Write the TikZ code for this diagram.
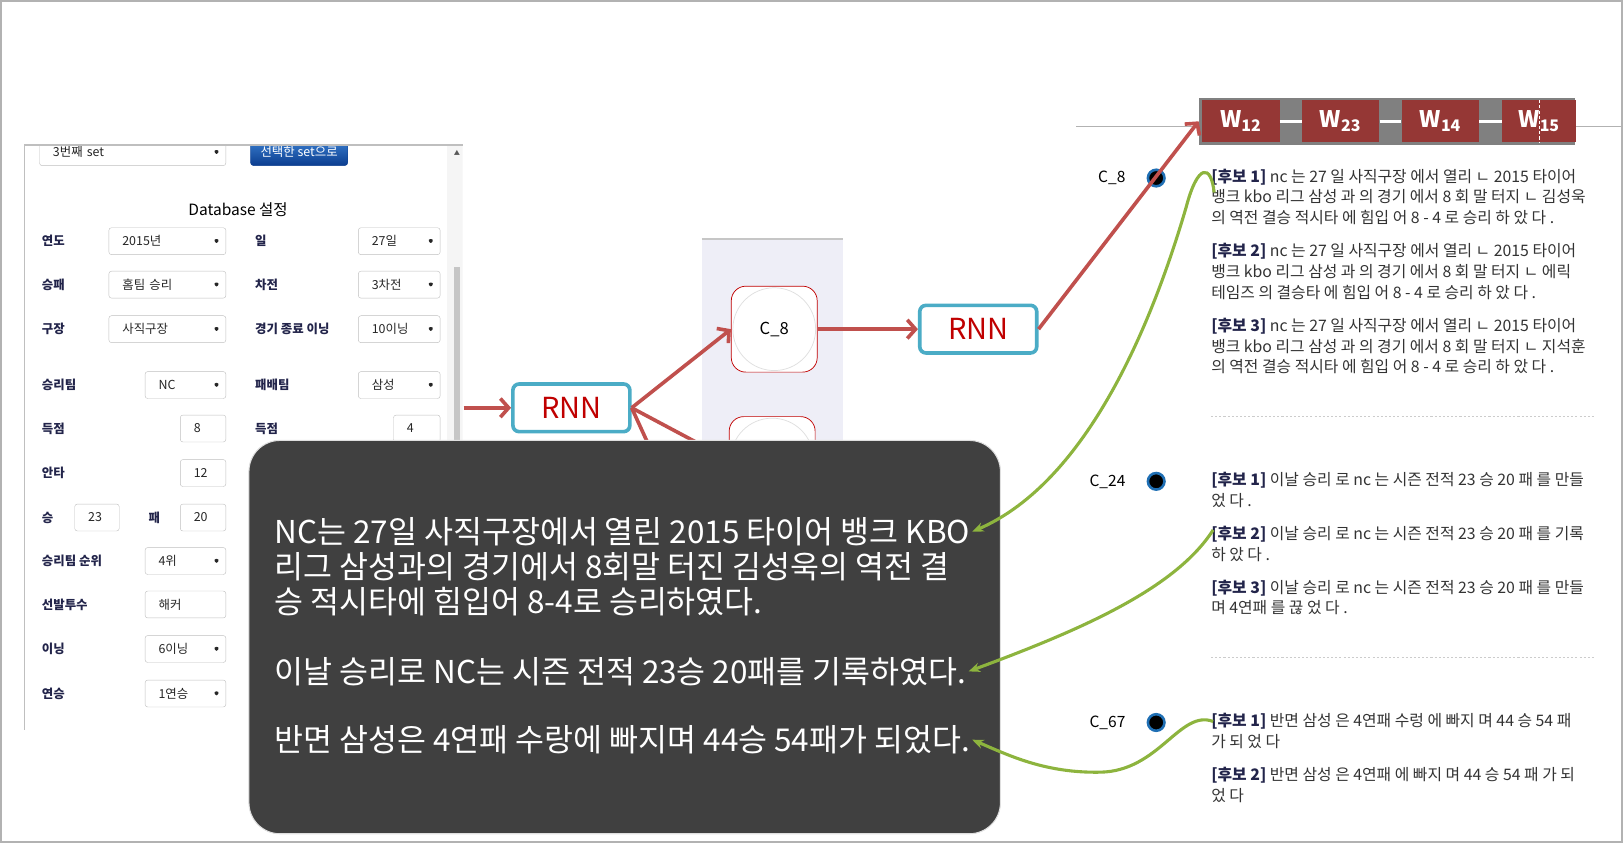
\documentclass[tikz,border=0pt]{standalone}
\usepackage{fontspec}
\setmainfont{Noto Sans CJK KR}
\usetikzlibrary{positioning, arrows.meta}

\definecolor{rnnblue}{HTML}{4BACC6}
\definecolor{rnnred}{HTML}{C00000}
\definecolor{linkred}{HTML}{C0504D}
\definecolor{wred}{HTML}{953735}
\definecolor{linkgreen}{HTML}{8DB43E}
\definecolor{boxdark}{HTML}{404040}
\definecolor{panelblue}{HTML}{EEEEF7}
\definecolor{labelnavy}{HTML}{22244A}
\definecolor{dotblue}{HTML}{1F6FB4}
\definecolor{btntop}{HTML}{3A7FD0}
\definecolor{btnbot}{HTML}{0B3D8F}

\newcommand{\hubo}[1]{{\bfseries\color{labelnavy}[후보 #1]}}

\tikzset{
rnn/.style={draw=rnnblue, line width=3.5pt, rounded corners=6pt, fill=white,
  minimum width=113pt, minimum height=46pt, text=rnnred,
  font=\fontsize{28}{30}\selectfont}, % encoder and decoder boxes
cell/.style={draw=rnnred, line width=0.7pt, rounded corners=14pt, fill=white,
  minimum size=83pt, font=\fontsize{16}{18}\selectfont,
  path picture={\draw[gray!25] (path picture bounding box.center) circle (40pt);}},
redlink/.style={draw=linkred, line width=3.5pt, -{Straight Barb[length=8pt, width=18pt]}},
redline/.style={draw=linkred, line width=3.5pt},
greenlink/.style={draw=linkgreen, line width=3pt, -{Stealth[length=11pt, width=9pt]}},
wbox/.style={fill=wred, minimum width=75pt, minimum height=40pt, text=white,
  font=\fontsize{22}{24}\selectfont\bfseries},
formlabel/.style={anchor=west, text=labelnavy, font=\fontsize{12}{14}\selectfont\bfseries},
field/.style={draw=gray!50, rounded corners=2.5pt, fill=white, minimum height=26pt,
  inner xsep=13pt, anchor=west, align=left, text=black!85,
  font=\fontsize{12}{14}\selectfont, text width=#1},
dropdown/.style={field=#1, path picture={\fill[black!85] ([xshift=-12pt,yshift=2pt]path picture bounding box.east)
  -- ++(6pt,0pt) -- ++(-3pt,-5pt) -- cycle;}}, % select box with its little triangle
clabel/.style={anchor=east, font=\fontsize{15}{17}\selectfont},
cdot/.style={circle, fill=black, draw=dotblue, line width=2.5pt, minimum size=16pt, inner sep=0pt},
cand/.style={anchor=north west, align=left, inner sep=0pt, text=black!80,
  font=\fontsize{15.3}{20}\selectfont}, % candidate sentences
sumline/.style={anchor=base west, inner sep=2pt, text=white, font=\fontsize{30.4}{34}\selectfont},
}

\begin{document}
\begin{tikzpicture}[x=1pt, y=-1pt]
\useasboundingbox (0,0) rectangle (1568,814);
\draw[gray!60, line width=1.5pt] (0.75,0.75) rectangle (1567.25,813.25);

% input form
\begin{scope}
  \clip (24,140) rectangle (447,705);
  \fill[gray!8] (432,140) rectangle (447,705);
  \fill[gray!45] (439,258) rectangle (444,705);
  \node[font=\fontsize{6}{6}\selectfont, text=gray!70!black] (scrollup) at (441.5,148) {▲};
  \node[dropdown=154pt] (setsel) at (38,147) {3번째 set};
  \node[draw=btnbot, rounded corners=3pt, top color=btntop, bottom color=btnbot, text=white,
    minimum width=94pt, minimum height=26pt, inner xsep=2pt,
    font=\fontsize{12}{14}\selectfont] (setbtn) at (289,147) {선택한 set으로};
  \node[font=\fontsize{15}{17}\selectfont] (dbtitle) at (230,203) {Database 설정};
  \node[formlabel] (lyear) at (37,233) {연도};
  \node[dropdown=87pt] (fyear) at (105,233) {2015년};
  \node[formlabel] (lday) at (243,233) {일};
  \node[dropdown=53pt] (fday) at (346,233) {27일};
  \node[formlabel] (lresult) at (37,275) {승패};
  \node[dropdown=87pt] (fresult) at (105,275) {홈팀 승리};
  \node[formlabel] (lgame) at (243,275) {차전};
  \node[dropdown=53pt] (fgame) at (346,275) {3차전};
  \node[formlabel] (lpark) at (37,318) {구장};
  \node[dropdown=87pt] (fpark) at (105,318) {사직구장};
  \node[formlabel] (lend) at (243,318) {경기 종료 이닝};
  \node[dropdown=53pt] (fend) at (346,318) {10이닝};
  \node[formlabel] (lwin) at (37,372) {승리팀};
  \node[dropdown=52pt] (fwin) at (140,372) {NC};
  \node[formlabel] (llose) at (243,372) {패배팀};
  \node[dropdown=53pt] (flose) at (346,372) {삼성};
  \node[formlabel] (lscore) at (37,414) {득점};
  \node[field=18pt] (fscore) at (174,414) {8};
  \node[formlabel] (lscoreb) at (243,414) {득점};
  \node[field=19pt] (fscoreb) at (380,414) {4};
  \node[formlabel] (lhit) at (37,457) {안타};
  \node[field=18pt] (fhit) at (174,457) {12};
  \node[formlabel] (lw) at (37,500) {승};
  \node[field=17pt] (fw) at (72,500) {23};
  \node[formlabel] (ll) at (140,500) {패};
  \node[field=18pt] (fl) at (174,500) {20};
  \node[formlabel] (lrank) at (37,542) {승리팀 순위};
  \node[dropdown=52pt] (frank) at (140,542) {4위};
  \node[formlabel] (lpitch) at (37,584) {선발투수};
  \node[field=52pt] (fpitch) at (140,584) {해커};
  \node[formlabel] (linn) at (37,627) {이닝};
  \node[dropdown=52pt] (finn) at (140,627) {6이닝};
  \node[formlabel] (lstreak) at (37,670) {연승};
  \node[dropdown=52pt] (fstreak) at (140,670) {1연승};
\end{scope}
\draw[gray!50, line width=1.2pt] (24,705) -- (24,140) -- (447,140);

% encoder, cells, decoder
\fill[panelblue] (678,231) rectangle (814,520);
\draw[gray!45, line width=1.5pt] (678,231) -- (814,231);
\coordinate (formout) at (448,394);
\coordinate (hidden) at (645,470);
\node[rnn] (rnn1) at (552,394) {RNN};
\node[cell] (c8) at (748,318) {C\_8};
\node[cell] (cnext) at (746,444) {};
\node[rnn, right=97pt of c8] (rnn2) {RNN};
\draw[redlink] (formout) -- (rnn1);
\draw[redlink] (rnn1.east) -- (c8.west);
\draw[redline] (rnn1.east) -- (cnext.west);
\draw[redline] (rnn1.east) -- (hidden);
\draw[redlink] (c8) -- (rnn2);

% weight strip
\draw[gray!60, line width=1.2pt] (1040,122) -- (1568,122);
\node[fill=gray, minimum width=363pt, minimum height=46pt, anchor=north west, inner sep=0pt] (wstrip) at (1158,94) {};
\node[wbox, anchor=west] (w12) at (1161,117) {W\textsubscript{12}};
\node[wbox, right=21pt of w12] (w23) {W\textsubscript{23}};
\node[wbox, right=21pt of w23] (w14) {W\textsubscript{14}};
\node[wbox, right=22pt of w14, minimum width=71pt] (w15) {W\textsubscript{15}};
\draw[white, line width=3pt] (w12) -- (w23);
\draw[white, line width=3pt] (w23) -- (w14);
\draw[white, line width=3pt] (w14) -- (w15);
\draw[white, line width=0.6pt, dash pattern=on 3pt off 2pt] (w15.north) -- (w15.south);

% candidate sentences
\node[cdot] (dot8) at (1117,172) {};
\node[clabel, left=17pt of dot8] (lab8) {C\_8};
\node[cdot] (dot24) at (1117,465) {};
\node[clabel, left=17pt of dot24] (lab24) {C\_24};
\node[cdot] (dot67) at (1117,698) {};
\node[clabel, left=17pt of dot67] (lab67) {C\_67};

\node[cand] (c8a) at (1170,163) {\hubo{1} nc 는 27 일 사직구장 에서 열리 ㄴ 2015 타이어\\뱅크 kbo 리그 삼성 과 의 경기 에서 8 회 말 터지 ㄴ 김성욱\\의 역전 결승 적시타 에 힘입 어 8 - 4 로 승리 하 았 다 .};
\node[cand] (c8b) at (1170,235) {\hubo{2} nc 는 27 일 사직구장 에서 열리 ㄴ 2015 타이어\\뱅크 kbo 리그 삼성 과 의 경기 에서 8 회 말 터지 ㄴ 에릭\\테임즈 의 결승타 에 힘입 어 8 - 4 로 승리 하 았 다 .};
\node[cand] (c8c) at (1170,307) {\hubo{3} nc 는 27 일 사직구장 에서 열리 ㄴ 2015 타이어\\뱅크 kbo 리그 삼성 과 의 경기 에서 8 회 말 터지 ㄴ 지석훈\\의 역전 결승 적시타 에 힘입 어 8 - 4 로 승리 하 았 다 .};
\draw[gray!40, line width=1pt, dash pattern=on 2pt off 2pt] (1170,402) -- (1540,402);
\node[cand] (c24a) at (1170,456) {\hubo{1} 이날 승리 로 nc 는 시즌 전적 23 승 20 패 를 만들\\었 다 .};
\node[cand] (c24b) at (1170,508) {\hubo{2} 이날 승리 로 nc 는 시즌 전적 23 승 20 패 를 기록\\하 았 다 .};
\node[cand] (c24c) at (1170,560) {\hubo{3} 이날 승리 로 nc 는 시즌 전적 23 승 20 패 를 만들\\며 4연패 를 끊 었 다 .};
\draw[gray!40, line width=1pt, dash pattern=on 2pt off 2pt] (1170,635) -- (1540,635);
\node[cand] (c67a) at (1170,689) {\hubo{1} 반면 삼성 은 4연패 수렁 에 빠지 며 44 승 54 패\\가 되 었 다};
\node[cand] (c67b) at (1170,741) {\hubo{2} 반면 삼성 은 4연패 에 빠지 며 44 승 54 패 가 되\\었 다};

\draw[redlink] (rnn2.east) -- (wstrip.west);

% generated summary
\node[fill=boxdark, draw=gray!25, line width=1pt, rounded corners=30pt, minimum width=726pt,
  minimum height=380pt, anchor=north west] (summary) at (240,425) {};
\node[sumline] (sline1) at (263,525) {NC는 27일 사직구장에서 열린 2015 타이어 뱅크 KBO};
\node[sumline] (sline2) at (263,559) {리그 삼성과의 경기에서 8회말 터진 김성욱의 역전 결};
\node[sumline] (sline3) at (263,593) {승 적시타에 힘입어 8-4로 승리하였다.};
\node[sumline] (sline4) at (263,660) {이날 승리로 NC는 시즌 전적 23승 20패를 기록하였다.};
\node[sumline] (sline5) at (263,726) {반면 삼성은 4연패 수랑에 빠지며 44승 54패가 되었다.};

\coordinate (g1s) at (1173,186);
\coordinate (g2s) at (1172,512);
\coordinate (g3s) at (1172,697);
\draw[greenlink] (g1s) .. controls (1170,158) and (1157,158) .. (1146,200)
  .. controls (1105,340) and (1040,470) .. (sline1.east);
\draw[greenlink] (g2s) .. controls (1135,570) and (1040,610) .. (sline4.east);
\draw[greenlink] (g3s) .. controls (1140,685) and (1120,745) .. (1063,746)
  .. controls (1010,747) and (975,730) .. (sline5.east);
\end{tikzpicture}
\end{document}
